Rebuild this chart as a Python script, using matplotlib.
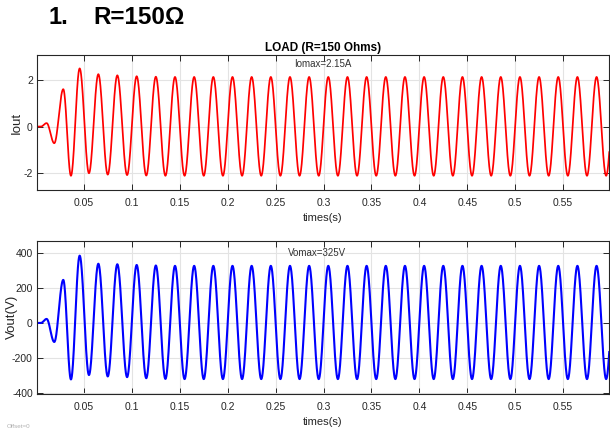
import numpy as np
import matplotlib
matplotlib.use("Agg")
import matplotlib.pyplot as plt
from matplotlib import font_manager

# Output waveforms of the load, stored as successive extrema (time in s, value)
ext_t = [0.000, 0.005, 0.011, 0.019, 0.0284, 0.0364, 0.0455, 0.0552, 0.0650, 0.0748,
         0.0848, 0.0950, 0.1050, 0.1150, 0.1250, 0.1350, 0.1450, 0.1550, 0.1650, 0.1750,
         0.1850, 0.1950, 0.2050, 0.2150, 0.2250, 0.2350, 0.2450, 0.2550, 0.2650, 0.2750,
         0.2850, 0.2950, 0.3050, 0.3150, 0.3250, 0.3350, 0.3450, 0.3550, 0.3650, 0.3750,
         0.3850, 0.3950, 0.4050, 0.4150, 0.4250, 0.4350, 0.4450, 0.4550, 0.4650, 0.4750,
         0.4850, 0.4950, 0.5050, 0.5150, 0.5250, 0.5350, 0.5450, 0.5550, 0.5650, 0.5750,
         0.5850, 0.5950, 0.6050]

iout_ext = [0.0, 0.0, 0.15, -0.72, 1.62, -2.13, 2.52, -2.02, 2.27, -2.08,
            2.22, -2.10, 2.18, -2.12, 2.16, -2.13, 2.15, -2.13, 2.15, -2.13,
            2.15, -2.13, 2.15, -2.13, 2.15, -2.13, 2.15, -2.13, 2.15, -2.13,
            2.15, -2.13, 2.15, -2.13, 2.15, -2.13, 2.15, -2.13, 2.15, -2.13,
            2.15, -2.13, 2.15, -2.13, 2.15, -2.13, 2.15, -2.13, 2.15, -2.13,
            2.15, -2.13, 2.15, -2.13, 2.15, -2.13, 2.15, -2.13, 2.15, -2.13,
            2.15, -2.13, 2.15]

vout_ext = [0.0, 0.0, 23.0, -108.0, 245.0, -321.0, 383.0, -296.0, 337.0, -304.0,
            334.0, -308.0, 330.0, -314.0, 327.0, -318.0, 325.0, -319.0, 325.0, -319.0,
            325.0, -319.0, 325.0, -319.0, 325.0, -319.0, 325.0, -319.0, 325.0, -319.0,
            325.0, -319.0, 325.0, -319.0, 325.0, -319.0, 325.0, -319.0, 325.0, -319.0,
            325.0, -319.0, 325.0, -319.0, 325.0, -319.0, 325.0, -319.0, 325.0, -319.0,
            325.0, -319.0, 325.0, -319.0, 325.0, -319.0, 325.0, -319.0, 325.0, -319.0,
            325.0, -319.0, 325.0]

x_ticks = [0.05, 0.1, 0.15, 0.2, 0.25, 0.3, 0.35, 0.4, 0.45, 0.5, 0.55]
x_ticklabels = ["0.05", "0.1", "0.15", "0.2", "0.25", "0.3", "0.35", "0.4", "0.45", "0.5", "0.55"]
i_ticks = [-2, 0, 2]
v_ticks = [-400, -200, 0, 200, 400]

heading = ("1.", "R=150\u03a9")
plot_title = "LOAD (R=150 Ohms)"
i_note = "Iomax=2.15A"
v_note = "Vomax=325V"


def trace(tk, vk, n=40):
    """Join consecutive extrema with half-cosine arcs."""
    ts, ys = [], []
    for a in range(len(tk) - 1):
        s = np.linspace(0.0, 1.0, n, endpoint=False)
        ts.append(tk[a] + (tk[a + 1] - tk[a]) * s)
        ys.append(vk[a] + (vk[a + 1] - vk[a]) * (1 - np.cos(np.pi * s)) / 2)
    ts.append([tk[-1]])
    ys.append([vk[-1]])
    return np.concatenate(ts), np.concatenate(ys)


names = {f.name for f in font_manager.fontManager.ttflist}
narrow = "Liberation Sans Narrow" if "Liberation Sans Narrow" in names else "Liberation Sans"

plt.rcParams["font.family"] = [narrow, "DejaVu Sans"]
plt.rcParams["axes.linewidth"] = 0.8
plt.rcParams["axes.unicode_minus"] = False

fig = plt.figure(figsize=(6.1, 4.3), dpi=100)
fig.patch.set_facecolor("white")

ax1 = fig.add_axes([0.0607, 0.558, 0.9377, 0.314])
ax2 = fig.add_axes([0.0607, 0.0837, 0.9377, 0.3565])

t_i, y_i = trace(ext_t, iout_ext)
t_v, y_v = trace(ext_t, vout_ext)
ax1.plot(t_i, y_i, color="#ff0000", lw=1.25)
ax2.plot(t_v, y_v, color="#0000ff", lw=1.5)

for ax, yt, ylim, ylab, lx in ((ax1, i_ticks, (-2.75, 3.1), "Iout", -0.0245),
                               (ax2, v_ticks, (-404, 468), "Vout(V)", -0.033)):
    ax.set_xlim(0.001, 0.598)
    ax.set_ylim(*ylim)
    ax.set_xticks(x_ticks)
    ax.set_xticklabels(x_ticklabels)
    ax.set_yticks(yt)
    ax.grid(True, color="#e3e3e3", lw=0.8)
    ax.set_axisbelow(True)
    ax.tick_params(direction="in", top=True, right=True, length=4, width=0.7,
                   colors="#262626", labelsize=7.5)
    ax.tick_params(axis="x", pad=6)
    ax.tick_params(axis="y", pad=3)
    for sp in ax.spines.values():
        sp.set_color("#262626")
    ax.set_xlabel("times(s)", fontsize=8, color="#262626", labelpad=3)
    ax.set_ylabel(ylab, fontsize=9.5, color="#262626", family="Liberation Sans")
    ax.yaxis.set_label_coords(lx, 0.5)

ax1.set_title(plot_title, fontsize=8.5, fontweight="bold", pad=3)
ax1.text(0.2997, 2.71, i_note, fontsize=7, color="#333333", ha="center", va="center")
ax2.text(0.2935, 398, v_note, fontsize=7, color="#333333", ha="center", va="center")

fig.text(48 / 610, 1 - 18 / 430, heading[0], fontsize=17, fontweight="bold",
         family="Liberation Sans", ha="left", va="center")
fig.text(93 / 610, 1 - 18 / 430, heading[1], fontsize=17.5, fontweight="bold",
         family="Liberation Sans", ha="left", va="center")
fig.text(7 / 610, 1 - 427 / 430, "Offset=0", fontsize=4.5, color="#b0b0b0",
         ha="left", va="center")

fig.savefig("out.png", dpi=100, facecolor="white")
